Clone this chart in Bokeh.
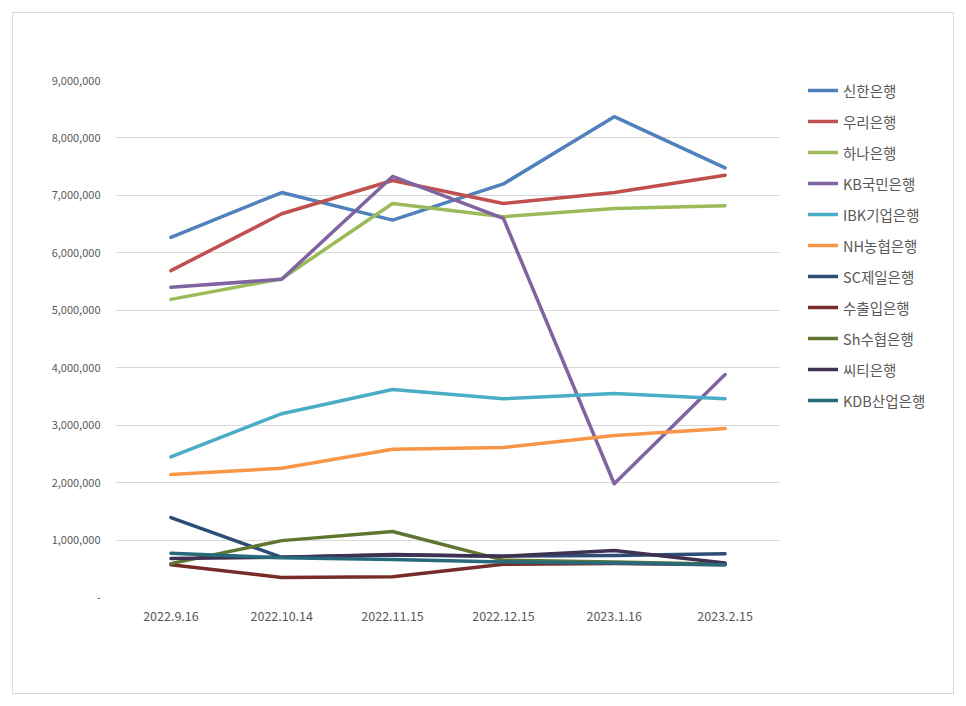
from bokeh.plotting import figure
from bokeh.layouts import row
from bokeh.models import Legend, LegendItem, CustomJSTickFormatter, FixedTicker
from bokeh.embed import file_html
from bokeh.resources import INLINE

dates = ["2022.9.16", "2022.10.14", "2022.11.15", "2022.12.15", "2023.1.16", "2023.2.15"]

shinhan = [6270000, 7050000, 6570000, 7200000, 8370000, 7480000]
woori = [5690000, 6680000, 7260000, 6860000, 7050000, 7350000]
hana = [5190000, 5550000, 6860000, 6630000, 6770000, 6820000]
kb = [5400000, 5540000, 7330000, 6600000, 1980000, 3880000]
ibk = [2450000, 3200000, 3620000, 3460000, 3550000, 3460000]
nh = [2140000, 2250000, 2580000, 2610000, 2820000, 2940000]
sc = [1390000, 700000, 740000, 720000, 730000, 760000]
kexim = [570000, 350000, 360000, 580000, 590000, 570000]
suhyup = [590000, 990000, 1150000, 650000, 620000, 580000]
citi = [680000, 700000, 750000, 720000, 820000, 600000]
kdb = [770000, 690000, 660000, 620000, 600000, 570000]

names = ["신한은행", "우리은행", "하나은행", "KB국민은행", "IBK기업은행", "NH농협은행",
         "SC제일은행", "수출입은행", "Sh수협은행", "씨티은행", "KDB산업은행"]
series = [shinhan, woori, hana, kb, ibk, nh, sc, kexim, suhyup, citi, kdb]
colors = ["#4F81BD", "#C0504D", "#9BBB59", "#8064A2", "#4BACC6", "#F79646",
          "#2C4D75", "#772C2A", "#5F7530", "#3F3151", "#276A7C"]
y_ticks = [0, 1000000, 2000000, 3000000, 4000000, 5000000, 6000000, 7000000, 8000000, 9000000]

FONT = "Noto Sans CJK KR"

p = figure(x_range=dates, y_range=(0, 9000000), width=767, height=680,
           output_backend="svg", toolbar_location=None,
           min_border_left=102, min_border_right=0, min_border_top=67, min_border_bottom=96)
p.outline_line_color = None
p.background_fill_color = "white"
p.border_fill_color = "white"

p.xgrid.grid_line_color = None
p.ygrid.grid_line_color = "#d9d9d9"
p.ygrid.grid_line_width = 1

p.yaxis.ticker = FixedTicker(ticks=y_ticks)
p.yaxis.formatter = CustomJSTickFormatter(code="""
if (tick == 0) { return '-'; }
return Math.round(tick).toString().replace(/\\B(?=(\\d{3})+(?!\\d))/g, ',');
""")
for ax in (p.xaxis, p.yaxis):
    ax.axis_line_color = None
    ax.major_tick_line_color = None
    ax.minor_tick_line_color = None
    ax.major_label_text_color = "#595959"
    ax.major_label_text_font = FONT
p.yaxis.major_label_text_font_size = "11px"
p.yaxis.major_label_standoff = 9
p.xaxis.major_label_text_font_size = "12.5px"
p.xaxis.major_label_standoff = 7

# legend panel: same series drawn outside its visible y range
p2 = figure(x_range=dates, y_range=(-20000000, -10000000), width=173, height=680,
            output_backend="svg", toolbar_location=None,
            min_border_left=0, min_border_right=0, min_border_top=67, min_border_bottom=96,
            x_axis_type=None, y_axis_type=None)
p2.outline_line_color = None
p2.xgrid.grid_line_color = None
p2.ygrid.grid_line_color = None
p2.background_fill_color = "white"
p2.border_fill_color = "white"

items = []
for name, vals, c in zip(names, series, colors):
    p.line(dates, vals, line_color=c, line_width=3.5, line_join="round", line_cap="round")
    r2 = p2.line(dates, vals, line_color=c, line_width=3.5, line_cap="round")
    items.append(LegendItem(label=name, renderers=[r2]))

legend = Legend(items=items, location=(28, 186), border_line_color=None,
                background_fill_alpha=0, label_text_font=FONT, label_text_font_size="14.5px",
                label_text_color="#595959", glyph_width=30, glyph_height=22, label_height=22,
                spacing=9, padding=0, margin=0, label_standoff=5)
p2.add_layout(legend, "center")

layout = row(p, p2)
layout.margin = (13, 5, 5, 13)
layout.styles = {"outline": "1px solid #d9d9d9"}

open("out.html", "w").write(file_html(layout, INLINE))
